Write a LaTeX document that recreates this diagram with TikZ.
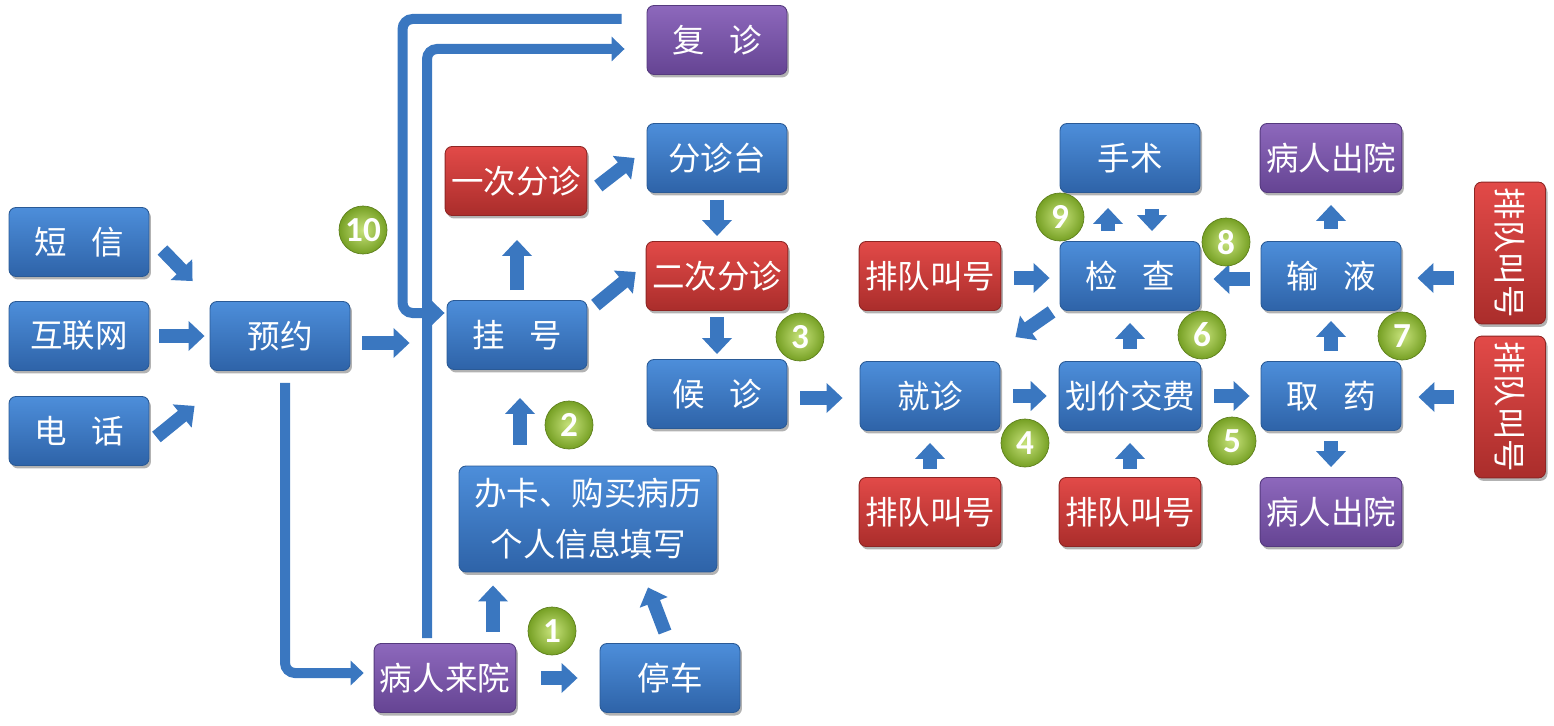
\documentclass[tikz,border=0pt]{standalone}
\usepackage{fontspec}
\newfontfamily\cjk{Noto Sans CJK SC}
\newfontfamily\numf{Carlito}
\usetikzlibrary{arrows.meta,shadows,calc}
\definecolor{arr}{HTML}{3A77C0}
\definecolor{bluet}{HTML}{4D8EDA}
\definecolor{blueb}{HTML}{2E63A8}
\definecolor{bluel}{HTML}{2A5A96}
\definecolor{redt}{HTML}{E24A48}
\definecolor{redb}{HTML}{AA2D2B}
\definecolor{redl}{HTML}{8E2624}
\definecolor{purt}{HTML}{8D68BC}
\definecolor{purb}{HTML}{654493}
\definecolor{purl}{HTML}{553A7E}
\definecolor{grnin}{HTML}{C8E37C}
\definecolor{grnout}{HTML}{76A024}
\tikzset{
  box/.style={rounded corners=0.14cm, minimum width=2.8cm, minimum height=1.38cm,
    text=white, align=center, font=\cjk\fontsize{18.5}{29}\selectfont, line width=0.5pt,
    drop shadow={shadow xshift=0.04cm, shadow yshift=-0.06cm, opacity=0.3, fill=black}},
  bluebox/.style={box, draw=bluel, top color=bluet, bottom color=blueb},
  redbox/.style={box, draw=redl, top color=redt, bottom color=redb},
  purbox/.style={box, draw=purl, top color=purt, bottom color=purb},
  num/.style={circle, minimum size=0.96cm, inner sep=0pt, draw=grnout!80!black, line width=0.4pt,
    inner color=grnin, outer color=grnout, text=white, font=\numf\bfseries\fontsize{20}{22}\selectfont},
  blk/.style={draw=arr, line width=0.27cm, -{Triangle[width=0.58cm,length=0.32cm]}},
  elb/.style={draw=arr, line width=0.2cm, rounded corners=0.2cm},
  elba/.style={elb, -{Triangle[width=0.48cm,length=0.26cm]}},
}
\begin{document}
\begin{tikzpicture}[x={(0.02cm,0)}, y={(0,-0.02cm)}]
\useasboundingbox (0,0) rectangle (1554,726);
\def\sp{\hspace{0.75em}}
% nodes
\node[bluebox] (sms) at (79,242) {短\sp 信};
\node[bluebox] (net) at (79,336) {互联网};
\node[bluebox] (tel) at (79,431) {电\sp 话};
\node[bluebox] (yy) at (280,336) {预约};
\node[bluebox] (gh) at (517,335) {挂\sp 号};
\node[redbox] (yc) at (516,181) {一次分诊};
\node[bluebox] (fzt) at (717,158) {分诊台};
\node[purbox] (fz) at (717,40) {复\sp 诊};
\node[redbox] (ec) at (717,276) {二次分诊};
\node[bluebox] (hz) at (717,394) {候\sp 诊};
\node[bluebox, minimum width=5.16cm, minimum height=2.12cm] (bk) at (588,519) {办卡、购买病历\\个人信息填写};
\node[purbox] (lyl) at (445,678) {病人来院};
\node[bluebox] (tc) at (670,678) {停车};
\node[bluebox] (jz) at (930,396) {就诊};
\node[redbox] (pd1) at (930,276) {排队叫号};
\node[redbox] (pd2) at (930,512) {排队叫号};
\node[bluebox] (ss) at (1130,158) {手术};
\node[bluebox] (jc) at (1130,276) {检\sp 查};
\node[bluebox] (hj) at (1130,396) {划价交费};
\node[redbox] (pd3) at (1130,512) {排队叫号};
\node[purbox] (cy1) at (1331,158) {病人出院};
\node[bluebox] (sy) at (1331,276) {输\sp 液};
\node[bluebox] (qy) at (1331,396) {取\sp 药};
\node[purbox] (cy2) at (1331,512) {病人出院};
\node[redbox, rotate=-90, minimum height=1.42cm] (pd4) at (1510,253) {排队叫号};
\node[redbox, rotate=-90, minimum height=1.42cm] (pd5) at (1510,407) {排队叫号};
% block arrows
\draw[blk] ([shift={(13,8)}]sms.east) -- ([shift={(-17,-20)}]yy.north west);
\draw[blk] ([shift={(10,0)}]net.east) -- ([shift={(-5,0)}]yy.west);
\draw[blk] ([shift={(7,6)}]tel.east) -- ([shift={(-15,35)}]yy.south west);
\draw[blk] ([shift={(12,7)}]yy.east) -- ([shift={(-37,8)}]gh.west);
\draw[blk] ([shift={(0,-10)}]gh.north) -- ([shift={(1,24)}]yc.south);
\draw[blk] ([shift={(11,5)}]yc.east) -- ([shift={(-12,0)}]fzt.west);
\draw[blk] ([shift={(0,7)}]fzt.south) -- ([shift={(0,-5)}]ec.north);
\draw[blk] ([shift={(8,5)}]gh.north east) -- ([shift={(-10,-4)}]ec.west);
\draw[blk] ([shift={(0,6)}]ec.south) -- ([shift={(0,-5)}]hz.north);
\draw[blk] ([shift={(13,4)}]hz.east) -- ([shift={(-17,2)}]jz.west);
\draw[blk] ([shift={(13,0)}]jz.east) -- ([shift={(-12,0)}]hj.west);
\draw[blk] ([shift={(13,0)}]hj.east) -- ([shift={(-11,0)}]qy.west);
\draw[blk] ([shift={(0,-12)}]hj.north) -- ([shift={(0,12)}]jc.south);
\draw[blk] ([shift={(-8,1)}]jc.south west) -- ([shift={(15,-24)}]jz.north east);
\draw[blk] ([shift={(-22,-10)}]jc.north) -- ([shift={(-22,15)}]ss.south);
\draw[blk] ([shift={(22,16)}]ss.south) -- ([shift={(22,-10)}]jc.north);
\draw[blk] ([shift={(13,2)}]pd1.east) -- ([shift={(-10,2)}]jc.west);
\draw[blk] ([shift={(-11,3)}]sy.west) -- ([shift={(13,3)}]jc.east);
\draw[blk] ([shift={(0,-10)}]qy.north) -- ([shift={(0,10)}]sy.south);
\draw[blk] ([shift={(0,-12)}]sy.north) -- ([shift={(0,12)}]cy1.south);
\draw[blk] ([shift={(0,10)}]qy.south) -- ([shift={(0,-10)}]cy2.north);
\draw[blk] ([shift={(-20,25)}]pd4.south) -- ([shift={(16,2)}]sy.east);
\draw[blk] ([shift={(-20,-10)}]pd5.south) -- ([shift={(17,1)}]qy.east);
\draw[blk] ([shift={(0,-8)}]pd2.north) -- ([shift={(0,12)}]jz.south);
\draw[blk] ([shift={(0,-8)}]pd3.north) -- ([shift={(0,12)}]hj.south);
\draw[blk] ([shift={(-68,-21)}]bk.north) -- ([shift={(3,28)}]gh.south);
\draw[blk] ([shift={(48,-11)}]lyl.north) -- ([shift={(-95,13)}]bk.south);
\draw[blk] ([shift={(-5,-11)}]tc.north) -- ([shift={(60,15)}]bk.south);
\draw[blk] ([shift={(25,0)}]lyl.east) -- ([shift={(-22,0)}]tc.west);
% elbow connectors
\draw[elba] ([shift={(5,12)}]yy.south) |- ([shift={(-10,-5)}]lyl.west);
\draw[elba] ([shift={(-18,-5)}]lyl.north) |- ([shift={(-22,9)}]fz.west);
\draw[elba] ([shift={(-25,-21)}]fz.west) -- ++(-219,0) |- ([shift={(-2,-22)}]gh.west);
% numbers
\node[num] (n1) at (552,631) {1};
\node[num] (n2) at (569,425) {2};
\node[num] (n3) at (800,337) {3};
\node[num] (n4) at (1025,443) {4};
\node[num] (n5) at (1232,441) {5};
\node[num] (n6) at (1202,335) {6};
\node[num] (n7) at (1402,336) {7};
\node[num] (n8) at (1226,242) {8};
\node[num] (n9) at (1060,217) {9};
\node[num] (n10) at (363,230) {10};
\end{tikzpicture}
\end{document}
